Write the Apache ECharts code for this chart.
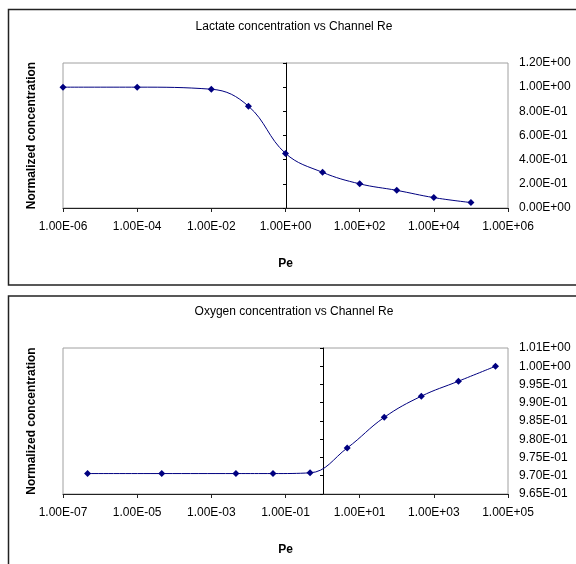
<!DOCTYPE html>
<html>
<head>
<meta charset="utf-8">
<script src="https://cdn.jsdelivr.net/npm/echarts@6/dist/echarts.min.js"></script>
<style>
  html, body { margin: 0; padding: 0; background: #fff; }
  #main { width: 576px; height: 564px; }
</style>
</head>
<body>
<div id="main"></div>
<script>
// Lactate chart
var lactTitle = 'Lactate concentration vs Channel Re';
var lactPe = [1e-6, 1e-4, 1e-2, 1e-1, 1, 10, 100, 1000, 1e4, 1e5];
var lactConc = [1.0, 1.0, 0.983, 0.843, 0.452, 0.295, 0.2, 0.146, 0.086, 0.045];

// Oxygen chart
var oxyTitle = 'Oxygen concentration vs Channel Re';
var oxyPe = [4.6e-7, 4.6e-5, 4.6e-3, 4.6e-2, 0.46, 4.6, 46, 460, 4600, 46000];
var oxyConc = [0.9706, 0.9706, 0.9706, 0.9706, 0.9708, 0.9776, 0.986, 0.9918, 0.9959, 1.0];

var xName = 'Pe';
var yName = 'Normalized concentration';

var font = 'Arial, "Liberation Sans", sans-serif';
var navy = '#000080';

// Excel style scientific labels: 1.00E-06 (half rounds up, like Excel)
function sci(v) {
    v = Number(v);
    v = v + Math.abs(v) * 1e-12;
    var s = v.toExponential(2);
    var p = s.split('e');
    var e = parseInt(p[1], 10);
    var a = Math.abs(e);
    return p[0] + 'E' + (e < 0 ? '-' : '+') + (a < 10 ? '0' + a : a);
}

function pairs(xs, ys) {
    return xs.map(function (x, i) { return [x, ys[i]]; });
}

// plot area layout (pixels)
var grids = [
    { left: 63, top: 63, width: 445, height: 145 },
    { left: 63, top: 348, width: 445, height: 146 }
];
var crossOffset = [223, 260]; // where the y axis line sits (x = 1)

function xAxisOf(gi, min, max) {
    return {
        type: 'log', logBase: 10, gridIndex: gi,
        min: min, max: max, interval: 2,
        name: xName, nameLocation: 'middle', nameGap: 50,
        nameTextStyle: { fontFamily: font, fontSize: 12, fontWeight: 'bold', color: '#000' },
        axisLine: { lineStyle: { color: '#222', width: 1 } },
        axisTick: { length: 4, lineStyle: { color: '#222' } },
        axisLabel: { formatter: sci, fontFamily: font, fontSize: 12, color: '#000', margin: 13 },
        splitLine: { show: false },
        minorTick: { show: false }
    };
}

function yAxesOf(gi, min, max, step, off) {
    return [{
        type: 'value', gridIndex: gi, position: 'left', offset: -off,
        min: min, max: max, interval: step,
        name: yName, nameLocation: 'middle', nameGap: off + 25,
        nameTextStyle: { fontFamily: font, fontSize: 12, fontWeight: 'bold', color: '#000' },
        axisLine: { show: true, lineStyle: { color: '#000', width: 1 } },
        axisTick: { show: true, length: 3, lineStyle: { color: '#000' } },
        axisLabel: { show: false },
        splitLine: { show: false }
    }, {
        type: 'value', gridIndex: gi, position: 'right',
        min: min, max: max, interval: step,
        axisLine: { show: false },
        axisTick: { show: false },
        axisLabel: { formatter: sci, fontFamily: font, fontSize: 12, color: '#000', margin: 11 },
        splitLine: { show: false }
    }];
}

function seriesOf(name, xi, yi, data) {
    return {
        name: name, type: 'line',
        xAxisIndex: xi, yAxisIndex: yi,
        data: data, smooth: 0.4,
        symbol: 'diamond', symbolSize: 7,
        lineStyle: { color: navy, width: 1 },
        itemStyle: { color: navy },
        animation: false
    };
}

var yAxes = yAxesOf(0, 0, 1.2, 0.2, crossOffset[0]).concat(yAxesOf(1, 0.965, 1.005, 0.005, crossOffset[1]));

var option = {
    backgroundColor: '#fff',
    animation: false,
    title: [
        { text: lactTitle, left: 294, top: 21, padding: 0, textAlign: 'center',
          textStyle: { fontFamily: font, fontSize: 12, fontWeight: 'normal', color: '#000' } },
        { text: oxyTitle, left: 294, top: 306, padding: 0, textAlign: 'center',
          textStyle: { fontFamily: font, fontSize: 12, fontWeight: 'normal', color: '#000' } }
    ],
    grid: grids.map(function (g) {
        return { left: g.left, top: g.top, width: g.width, height: g.height,
                 show: true, borderColor: '#a0a0a0', borderWidth: 1, backgroundColor: '#fff' };
    }),
    xAxis: [xAxisOf(0, 1e-6, 1e6), xAxisOf(1, 1e-7, 1e5)],
    yAxis: yAxes,
    series: [
        seriesOf('Lactate', 0, 0, pairs(lactPe, lactConc)),
        seriesOf('Oxygen', 1, 2, pairs(oxyPe, oxyConc))
    ],
    graphic: [
        { type: 'rect', shape: { x: 8.5, y: 9.5, width: 600, height: 275.5 },
          style: { fill: null, stroke: '#222', lineWidth: 1.5 }, silent: true, z: -1 },
        { type: 'rect', shape: { x: 8.5, y: 296, width: 600, height: 300 },
          style: { fill: null, stroke: '#222', lineWidth: 1.5 }, silent: true, z: -1 }
    ]
};

var myChart = echarts.init(document.getElementById('main'));
myChart.setOption(option);
</script>
</body>
</html>
